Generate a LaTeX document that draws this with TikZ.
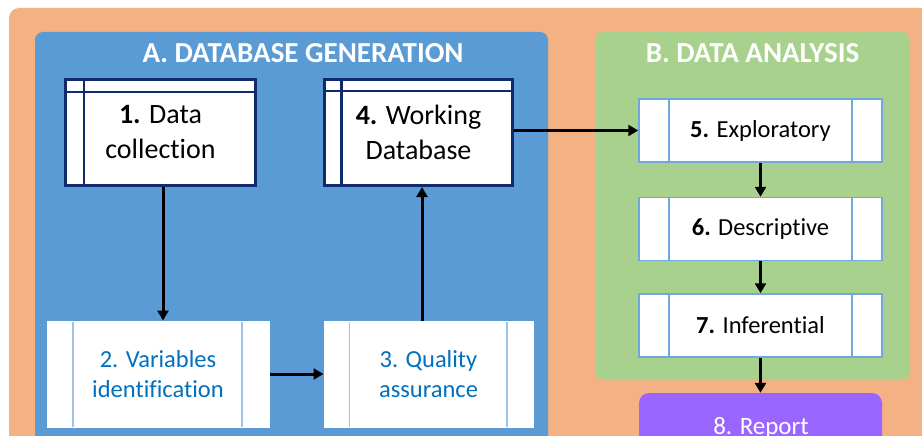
\documentclass[tikz,border=0pt]{standalone}
\usepackage{fontspec}
\setmainfont{Carlito}[Ligatures=NoCommon]
\usetikzlibrary{arrows.meta}
\definecolor{bgorange}{HTML}{F4B183}
\definecolor{panelblue}{HTML}{5B9BD5}
\definecolor{panelgreen}{HTML}{A9D18E}
\definecolor{navy}{HTML}{0F2B6B}
\definecolor{lineblue}{HTML}{9DC3E6}
\definecolor{edgeblue}{HTML}{6FA8DC}
\definecolor{textblue}{HTML}{0070C0}
\definecolor{reportpurple}{HTML}{9B66FF}
\begin{document}
\begin{tikzpicture}[x=1pt,y=-1pt,
  titletext/.style={text=white, font=\bfseries\fontsize{29}{34}\selectfont, anchor=base, inner sep=0pt},
  dbbox/.style={draw=navy, fill=white, line width=3pt, align=center, inner sep=0pt,
    font=\fontsize{28}{35}\selectfont},
  procbox/.style={draw=white, fill=white, line width=1pt, align=center, inner sep=0pt,
    text=textblue, font=\fontsize{24.5}{30}\selectfont},
  anbox/.style={draw=edgeblue, fill=white, line width=1.5pt, align=center, inner sep=0pt,
    minimum width=243pt, minimum height=63pt, font=\fontsize{24.5}{30}\selectfont},
  arr/.style={draw=black, line width=3pt, -{Triangle[length=10pt,width=11pt]}}
]
\useasboundingbox (0,0) rectangle (922,436);
\clip (0,0) rectangle (922,436);
% backgrounds
\fill[bgorange, rounded corners=10pt] (9,8) rectangle (960,480);
\fill[panelblue, rounded corners=8pt] (35,32) rectangle (548,480);
\fill[panelgreen, rounded corners=8pt] (595,32) rectangle (910,380);
\node[titletext] (ta) at (303,63) {A. DATABASE GENERATION};
\node[titletext] (tb) at (752.5,63) {B. DATA ANALYSIS};
% database boxes
\node[dbbox, minimum width=190pt, minimum height=106pt,
  path picture={\draw[navy, line width=2.5pt]
    ([xshift=18.5pt]path picture bounding box.north west) -- ([xshift=18.5pt]path picture bounding box.south west)
    ([yshift=-12.5pt]path picture bounding box.north west) -- ([yshift=-12.5pt]path picture bounding box.north east);}]
  (b1) at (160.5,132.5) {\textbf{1.} Data\\collection};
\node[dbbox, minimum width=188pt, minimum height=106pt,
  path picture={\draw[navy, line width=2.5pt]
    ([xshift=17pt]path picture bounding box.north west) -- ([xshift=17pt]path picture bounding box.south west)
    ([yshift=-11.5pt]path picture bounding box.north west) -- ([yshift=-11.5pt]path picture bounding box.north east);}]
  (b4) at (418.5,132.5) {\textbf{4.} Working\\Database};
% process boxes
\node[procbox, minimum width=222pt, minimum height=106pt,
  path picture={\draw[lineblue, line width=1.5pt]
    ([xshift=26pt]path picture bounding box.north west) -- ([xshift=26pt]path picture bounding box.south west)
    ([xshift=-27pt]path picture bounding box.north east) -- ([xshift=-27pt]path picture bounding box.south east);}]
  (b2) at (158,374) {2. Variables\\identification};
\node[procbox, minimum width=209pt, minimum height=106pt,
  path picture={\draw[lineblue, line width=1.5pt]
    ([xshift=25.5pt]path picture bounding box.north west) -- ([xshift=25.5pt]path picture bounding box.south west)
    ([xshift=-26pt]path picture bounding box.north east) -- ([xshift=-26pt]path picture bounding box.south east);}]
  (b3) at (428.5,374) {3. Quality\\assurance};
% analysis boxes
\tikzset{anlines/.style={path picture={\draw[edgeblue, line width=1.5pt]
    ([xshift=30pt]path picture bounding box.north west) -- ([xshift=30pt]path picture bounding box.south west)
    ([xshift=-30pt]path picture bounding box.north east) -- ([xshift=-30pt]path picture bounding box.south east);}}}
\node[anbox, anlines] (b5) at (760.5,130.5) {\textbf{5.} Exploratory};
\node[anbox, anlines] (b6) at (760.5,229) {\textbf{6.} Descriptive};
\node[anbox, anlines] (b7) at (760.5,325.5) {\textbf{7.} Inferential};
% report
\node[fill=reportpurple, rounded corners=10pt, minimum width=243pt, minimum height=80pt, inner sep=0pt]
  (b8) at (760.5,433) {};
\node[text=white, anchor=base, inner sep=0pt, font=\fontsize{25}{30}\selectfont] (t8) at (761,434) {8. Report};
% arrows
\draw[arr] ([xshift=2.5pt]b1.south) -- ([xshift=2.5pt]b1.south |- b2.north);
\draw[arr] (b2.east) -- (b2.east -| b3.west);
\draw[arr] ([xshift=3.5pt]b4.south |- b3.north) -- ([xshift=3.5pt]b4.south);
\draw[arr] (b4.east |- b5.west) -- (b5.west);
\draw[arr] (b5.south) -- (b6.north);
\draw[arr] (b6.south) -- (b7.north);
\draw[arr] (b7.south) -- (b8.north);
\end{tikzpicture}
\end{document}
